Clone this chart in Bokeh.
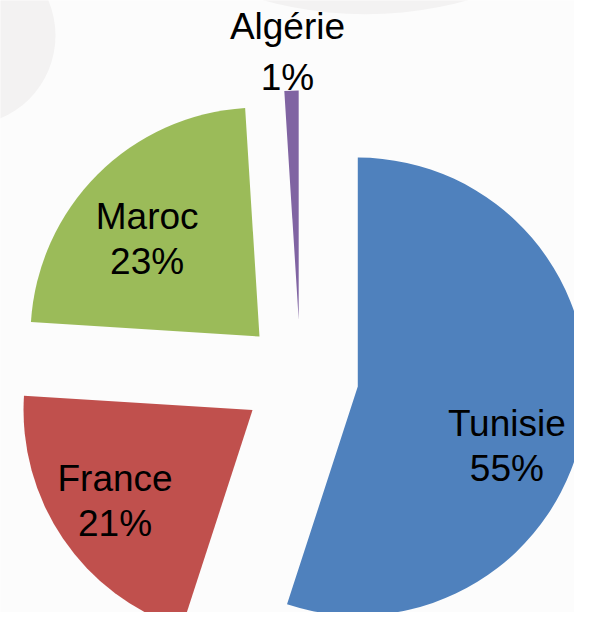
import numpy as np
from bokeh.plotting import figure
from bokeh.models import Range1d, ColumnDataSource
from bokeh.embed import file_html
from bokeh.resources import INLINE
from bokeh.core.properties import value

# ---- data ----
countries = ["Tunisie", "France", "Maroc", "Algérie"]
shares = [55, 21, 23, 1]
colors = ["#4f81bd", "#c0504d", "#9bbb59", "#8064a2"]

# ---- layout (pixels) ----
W, H = 574, 612
CX, CY = 308, 243          # pie centre
R = 229                    # radius
EXPLODE = 58               # explosion distance
label_frac = [0.70, 0.72, 0.65, 1.168]
label_dangle = [12.6, 0.7, -4.0, -0.6]   # degrees, relative to slice mid
label_lh = [1.1, 1.1, 1.1, 1.25]

p = figure(width=W, height=H, output_backend="svg", toolbar_location=None,
           x_range=Range1d(8, 8 + W), y_range=Range1d(8, 8 + H),
           x_axis_type=None, y_axis_type=None, min_border=0)
p.grid.visible = False
p.outline_line_color = None
p.background_fill_color = "#fcfcfc"
p.border_fill_color = "#fcfcfc"

# decorative background circles
p.circle(x=[-27, 373], y=[585, 984], radius=[90, 378],
         fill_color="#f3f2f2", line_color=None)

frac = np.array(shares, dtype=float) / np.sum(shares)
cum = np.concatenate([[0], np.cumsum(frac)]) * 2 * np.pi
t1, t2 = cum[:-1], cum[1:]
mid = (t1 + t2) / 2
vx = CX + EXPLODE * np.sin(mid)
vy = CY + EXPLODE * np.cos(mid)

src = ColumnDataSource(dict(
    x=vx, y=vy,
    start=np.pi / 2 - t2, end=np.pi / 2 - t1,
    color=colors,
))
p.wedge(x="x", y="y", radius=R, start_angle="start", end_angle="end",
        fill_color="color", line_color=None, source=src)

la = mid + np.radians(label_dangle)
lx = vx + np.array(label_frac) * R * np.sin(la)
ly = vy + np.array(label_frac) * R * np.cos(la)
labels = [f"{c}\n{s}%" for c, s in zip(countries, shares)]
lsrc = ColumnDataSource(dict(x=lx, y=ly, text=labels, lh=label_lh))
p.text(x="x", y="y", text="text", text_align="center", text_baseline="middle",
       text_font=value("Liberation Sans"), text_font_size="37px",
       text_line_height="lh", text_color="black", source=lsrc)

open("out.html", "w").write(file_html(p, INLINE))
